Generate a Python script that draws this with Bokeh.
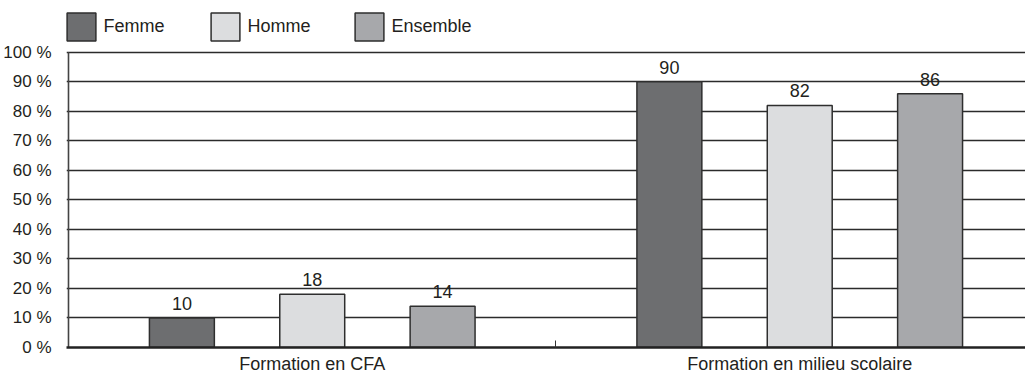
from bokeh.plotting import figure
from bokeh.models import (ColumnDataSource, Range1d, FixedTicker, Legend, LegendItem)
from bokeh.transform import dodge
from bokeh.core.properties import value
from bokeh.embed import file_html
from bokeh.resources import INLINE

# Data
categories = ["Formation en CFA", "Formation en milieu scolaire"]
series_names = ["Femme", "Homme", "Ensemble"]
femme = [10, 90]
homme = [18, 82]
ensemble = [14, 86]
y_ticks = [0, 10, 20, 30, 40, 50, 60, 70, 80, 90, 100]
y_tick_labels = ["0 %", "10 %", "20 %", "30 %", "40 %", "50 %", "60 %",
                 "70 %", "80 %", "90 %", "100 %"]

FONT = "Liberation Sans"
TEXT = "#231f20"
EDGE = "#2e2e2e"
colors = ["#6d6e70", "#dcdddf", "#a7a8ab"]

# category centres on a numeric axis (one unit per category)
centres = [i + 0.5 for i in range(len(categories))]

# layout in pixels: the frame runs from the top of the canvas down to the
# baseline, the value axis covers 0-100 % over its lower part
W, H = 1025, 376
LEFT = 65          # frame left edge
AXIS_X = 67        # value-axis line
BASE = 348         # y pixel of 0 %
TOP100 = 52        # y pixel of 100 %
CAT_PX = 488       # pixels per category
x0 = -(AXIS_X - LEFT) / CAT_PX
x1 = x0 + (W - LEFT) / CAT_PX
y1 = 100 * BASE / (BASE - TOP100)

p = figure(width=W, height=H, output_backend="svg", toolbar_location=None,
           x_range=Range1d(x0, x1), y_range=Range1d(0, y1),
           min_border_left=LEFT, min_border_right=0, min_border_top=0,
           min_border_bottom=H - BASE)
p.background_fill_color = "white"
p.border_fill_color = "white"
p.outline_line_color = None

# grid
p.xgrid.grid_line_color = None
p.ygrid.ticker = FixedTicker(ticks=y_ticks[1:])
p.ygrid.grid_line_color = "#2b2b2b"
p.ygrid.grid_line_width = 1.3

# value-axis line, only over 0-100 %
p.segment(x0=[0], y0=[y_ticks[0]], x1=[0], y1=[y_ticks[-1]],
          line_color="#444444", line_width=1.6)

offsets = [-0.2674, 0.0, 0.2674]
bar_w = 0.1332
renderers = []
for name, vals, col, off in zip(series_names, [femme, homme, ensemble], colors, offsets):
    src = ColumnDataSource(dict(x=centres, top=vals, label=[str(v) for v in vals]))
    r = p.vbar(x=dodge("x", off, range=p.x_range), top="top", bottom=0, width=bar_w,
               source=src, fill_color=col, line_color=EDGE, line_width=1.5)
    renderers.append(r)
    p.text(x=dodge("x", off, range=p.x_range), y="top", text="label", source=src,
           text_align="center", text_baseline="bottom", y_offset=-8,
           text_font=value(FONT), text_font_size="18px", text_color=TEXT)

# y axis
ya = p.yaxis[0]
ya.ticker = FixedTicker(ticks=y_ticks)
ya.major_label_overrides = {t: lab for t, lab in zip(y_ticks, y_tick_labels)}
ya.major_tick_line_color = None
ya.minor_tick_line_color = None
ya.major_label_standoff = 9
ya.axis_line_color = None
ya.major_label_text_font = FONT
ya.major_label_text_font_size = "17px"
ya.major_label_text_color = TEXT

# x axis
xa = p.xaxis[0]
xa.ticker = FixedTicker(ticks=centres, minor_ticks=[1.0])
xa.major_label_overrides = {c: lab for c, lab in zip(centres, categories)}
xa.major_tick_line_color = None
xa.minor_tick_in = 7
xa.minor_tick_out = 0
xa.minor_tick_line_color = "#333333"
xa.minor_tick_line_width = 1
xa.axis_line_color = "#222222"
xa.axis_line_width = 2.5
xa.major_label_standoff = 0
xa.major_label_text_font = FONT
xa.major_label_text_font_size = "18px"
xa.major_label_text_color = TEXT

# legend row above the frame; area glyphs are inset by 10 % of the glyph box
legend = Legend(items=[LegendItem(label=n, renderers=[r]) for n, r in zip(series_names, renderers)],
                orientation="horizontal", location=(-2.6, BASE - 44.5),
                glyph_width=36, glyph_height=35, label_standoff=4, label_width=104,
                spacing=0, padding=0, margin=0,
                border_line_color=None, background_fill_alpha=0,
                label_text_font=FONT, label_text_font_size="18px",
                label_text_color=TEXT)
p.add_layout(legend, "center")

open("out.html", "w").write(file_html(p, INLINE))
